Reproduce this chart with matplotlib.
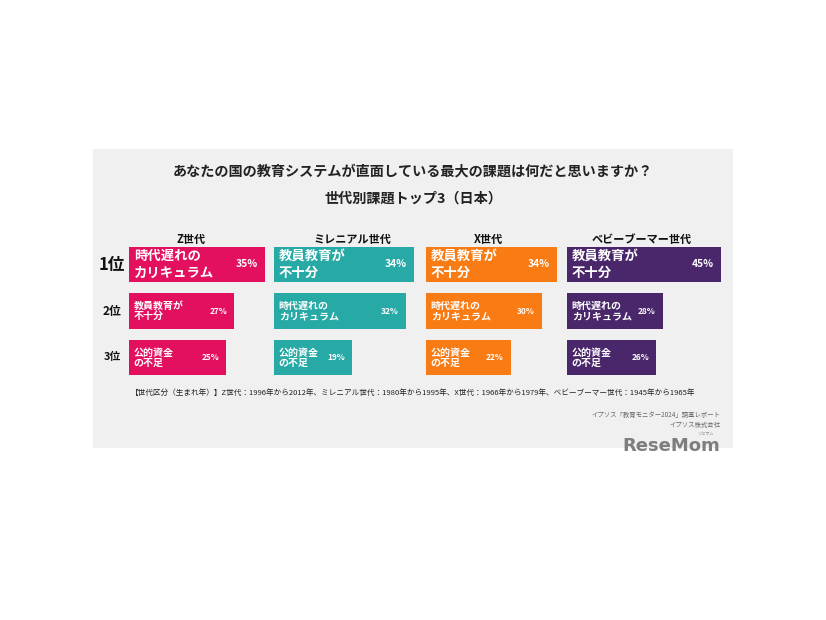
import matplotlib
matplotlib.use("Agg")
import matplotlib.pyplot as plt
from matplotlib.patches import Rectangle

plt.rcParams['font.family'] = ['Noto Sans CJK JP', 'DejaVu Sans']

# ---- data ----
title_line1 = "あなたの国の教育システムが直面している最大の課題は何だと思いますか？"
title_line2 = "世代別課題トップ3（日本）"
generations = ["Z世代", "ミレニアル世代", "X世代", "ベビーブーマー世代"]
rank_labels = ["1位", "2位", "3位"]
issues_z = ["時代遅れの\nカリキュラム", "教員教育が\n不十分", "公的資金\nの不足"]
issues_mil = ["教員教育が\n不十分", "時代遅れの\nカリキュラム", "公的資金\nの不足"]
issues_x = ["教員教育が\n不十分", "時代遅れの\nカリキュラム", "公的資金\nの不足"]
issues_boomer = ["教員教育が\n不十分", "時代遅れの\nカリキュラム", "公的資金\nの不足"]
values_z = [35, 27, 25]
values_mil = [34, 32, 19]
values_x = [34, 30, 22]
values_boomer = [45, 28, 26]
footnote = ("【世代区分（生まれ年）】Z世代：1996年から2012年、ミレニアル世代：1980年から1995年、"
            "X世代：1966年から1979年、ベビーブーマー世代：1945年から1965年")
source_lines = ["イプソス「教育モニター2024」調査レポート", "イプソス株式会社"]
logo_text = "ReseMom"

issues = [issues_z, issues_mil, issues_x, issues_boomer]
values = [values_z, values_mil, values_x, values_boomer]
colors = ["#E2105E", "#27A9A6", "#F97B14", "#4A266B"]

# ---- layout (pixels) ----
W, H = 826, 620
fig = plt.figure(figsize=(W / 100, H / 100), dpi=100)
fig.patch.set_facecolor("white")

def fx(x):
    return x / W

def fy(y):
    return 1 - y / H

# panel
fig.patches.append(Rectangle((fx(93), fy(448)), fx(733) - fx(93), fy(149) - fy(448),
                             transform=fig.transFigure, facecolor="#F0F0F0",
                             edgecolor="none", zorder=-5))

fig.text(fx(413), fy(171), title_line1, ha="center", va="center", fontsize=10.2,
         fontweight="bold", color="#222222")
fig.text(fx(413), fy(199), title_line2, ha="center", va="center", fontsize=10.2,
         fontweight="bold", color="#222222")

col_left = [129, 274, 426, 567]
col_width = [136, 140, 131, 154]
header_x = [191, 352, 488, 642]
ax_top, ax_bot = 241, 381

for gi, gen in enumerate(generations):
    ax = fig.add_axes([fx(col_left[gi]), fy(ax_bot), col_width[gi] / W, (ax_bot - ax_top) / H])
    ax.set_zorder(2)
    ax.set_facecolor("none")
    vals = values[gi]
    rows = list(range(len(vals)))
    ax.barh(rows, vals, height=0.76, color=colors[gi], edgecolor="none")
    ax.set_xlim(0, max(vals))
    ax.set_ylim(2.5, -0.5)
    ax.axis("off")
    for i, (lab, v) in enumerate(zip(issues[gi], vals)):
        big = (i == 0)
        ax.annotate(lab, xy=(0, i), xytext=(3.4, 0), textcoords="offset points",
                    ha="left", va="center", color="white", fontweight="bold",
                    fontsize=9.6 if big else 7.2, linespacing=1.22 if big else 1.05)
        ax.annotate(f"{v}%", xy=(v, i), xytext=(-5, 0), textcoords="offset points",
                    ha="right", va="center", color="white", fontweight="bold",
                    fontsize=7.4 if big else 6.0)
    fig.text(fx(header_x[gi]), fy(239), gen, ha="center", va="center", fontsize=8,
             fontweight="bold", color="#111111")

rank_y = [265, 311, 357]
rank_fs = [12, 8.5, 7.8]
for r, y, fs in zip(rank_labels, rank_y, rank_fs):
    fig.text(fx(112), fy(y), r, ha="center", va="center", fontsize=fs,
             fontweight="bold", color="#111111")

fig.text(fx(413), fy(393), footnote, ha="center", va="center", fontsize=5.5,
         color="#222222")
fig.text(fx(720), fy(415), source_lines[0], ha="right", va="center", fontsize=4.6,
         color="#666666")
fig.text(fx(720), fy(425), source_lines[1], ha="right", va="center", fontsize=4.6,
         color="#666666")
fig.text(fx(671), fy(446), logo_text, ha="center", va="center", fontsize=13,
         fontweight="bold", color="#7E7E7E", family=["DejaVu Sans"])
fig.text(fx(705), fy(434), "リセマム", ha="center", va="center", fontsize=3,
         color="#8A8A8A")

fig.savefig("out.png", dpi=100, facecolor="white")
